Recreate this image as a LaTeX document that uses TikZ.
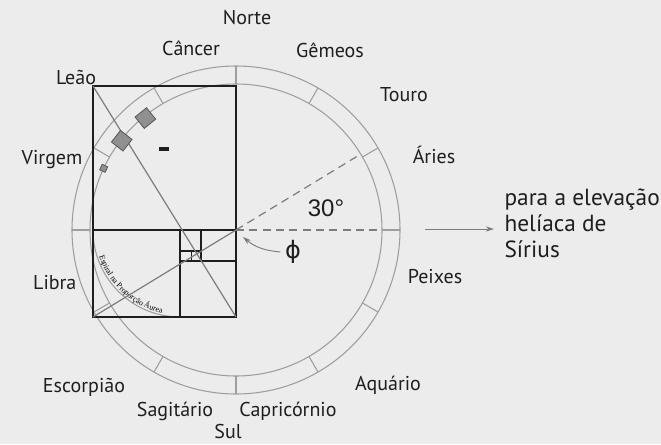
\documentclass[tikz,border=0pt]{standalone}
\usepackage{fontspec}
\setmainfont{PT Sans}
\newfontfamily\degfont{Liberation Sans}
\newfontfamily\spiralfont{Liberation Serif}
\newfontfamily\symbolfont{DejaVu Sans}
\usetikzlibrary{arrows.meta,positioning,calc,decorations.text}
\definecolor{paper}{HTML}{ECECEC}
\definecolor{ink}{HTML}{1E1E1E}
\definecolor{ring}{HTML}{9E9E9E}
\definecolor{guide}{HTML}{7C7C7C}
\tikzset{
  sign/.style={font=\fontsize{15}{17}\selectfont, text=ink, inner sep=1pt},
  frame/.style={draw=ink, line width=1.1pt},
  ringline/.style={draw=ring, line width=0.8pt},
  guideline/.style={draw=guide, line width=0.9pt},
  dashline/.style={guideline, dash pattern=on 6pt off 4pt},
  arr/.style={-{Stealth[length=2.2mm, width=1.4mm]}, draw=guide, line width=0.7pt},
  starbox/.style={draw=ink!75, fill=guide!85, line width=0.6pt, minimum size=#1, inner sep=0pt}
}
\begin{document}
\begin{tikzpicture}[x=0.75pt,y=0.75pt]
  \fill[paper] (0,0) rectangle (661,444);
  \useasboundingbox (0,0) rectangle (661,444);
  % centre of the ring = corner of the golden rectangle
  \coordinate (C) at (236,214);
  \coordinate (tl) at (93,358);
  \coordinate (ml) at (93,214);
  \coordinate (bl) at (93,127);
  \coordinate (br) at (236,127);
  \coordinate (sqT) at (180,214);
  \coordinate (sqB) at (180,127);
  \coordinate (cuL) at (180,183);
  \coordinate (cuR) at (236,183);
  \coordinate (smT) at (201,214);
  \coordinate (smB) at (201,183);
  \coordinate (tiL) at (180,193);
  \coordinate (tiR) at (201,193);
  \coordinate (miT) at (191,193);
  \coordinate (miB) at (191,183);

  % zodiac ring
  \draw[ringline] (C) circle (146);
  \draw[ringline] (C) circle (164);
  \foreach \a in {0,30,...,330}
    \draw[ringline] ($(C)+(\a:146)$) -- ($(C)+(\a:164)$);
  \draw[ringline] (ml) arc[start angle=180, end angle=270, radius=87];
  \path[decorate, decoration={text along path, text align=center,
      text={|\spiralfont\fontsize{6}{7}\selectfont|Espiral na Proporção Áurea}}]
    ($(sqT)+(186:85)$) arc[start angle=186, end angle=270, radius=85];

  % golden rectangle
  \draw[frame] (tl) rectangle (br);
  \draw[frame] (ml) -- (C);
  \draw[frame] (sqT) -- (sqB);
  \draw[frame] (cuL) -- (cuR);
  \draw[frame] (smT) -- (smB);
  \draw[frame] (tiL) -- (tiR);
  \draw[frame, line width=0.7pt] (miT) -- (miB);

  % diagonals
  \draw[guideline] (tl) -- (br);
  \draw[guideline] (bl) -- (C);
  \draw[dashline] (C) -- ($(bl)!1.87!(C)$) coordinate (rise);
  \draw[dashline] (C) -- ++(146,0) coordinate (east);

  % stars on the arc
  \node[starbox=11pt, rotate=39] (st1) at ($(C)+(129:144)$) {};
  \node[starbox=11pt, rotate=52] (st2) at ($(C)+(142:145)$) {};
  \node[starbox=4.5pt, rotate=65] (st3) at ($(C)+(155:146)$) {};
  \node[fill=ink, minimum width=7pt, minimum height=3pt, inner sep=0pt] (mark) at (164,295) {};

  % signs
  \node[sign] (norte) at (247,426) {Norte};
  \node[sign] (cancer) at (191,396) {Câncer};
  \node[sign] (gemeos) at (330,394) {Gêmeos};
  \node[sign] (leao) at (76,367) {Leão};
  \node[sign] (touro) at (404,349) {Touro};
  \node[sign, anchor=east] (virgem) at (84,284) {Virgem};
  \node[sign] (aries) at (434,289) {Áries};
  \node[sign] (peixes) at (435,167) {Peixes};
  \node[sign, anchor=east] (libra) at (78,161) {Libra};
  \node[sign] (escorpiao) at (84,57) {Escorpião};
  \node[sign] (aquario) at (388,59) {Aquário};
  \node[sign] (sagitario) at (175,33) {Sagitário};
  \node[sign] (capricornio) at (288,33) {Capricórnio};
  \node[sign] (sul) at (228,13) {Sul};

  \node[font=\degfont\fontsize{18}{20}\selectfont, text=ink] (deg) at (326,236) {30°};
  \node[font=\symbolfont\fontsize{18}{20}\selectfont, text=ink] (phi) at (293,192) {ϕ};
  \coordinate (phitip) at (243,207);
  \draw[arr] (phi.west) to[out=175, in=-40] (phitip);

  \node[sign, anchor=west, align=left, font=\fontsize{17.5}{19.5}\selectfont] (sirius) at (503,221)
    {para a elevação\\helíaca de\\Sírius};
  \coordinate (arrstart) at (425,215);
  \coordinate (arrend) at (494,215);
  \draw[arr] (arrstart) -- (arrend);
\end{tikzpicture}
\end{document}
